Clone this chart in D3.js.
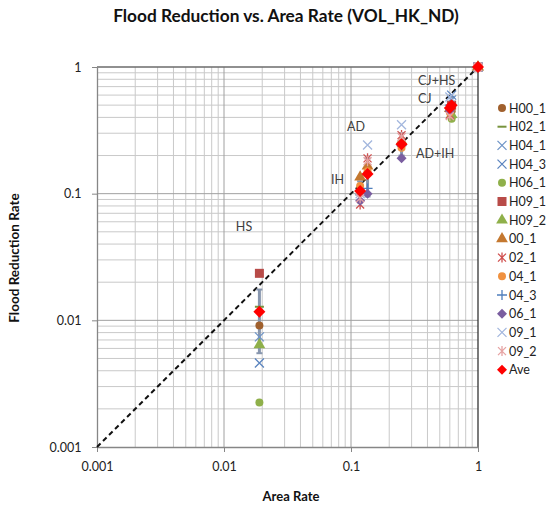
<!DOCTYPE html>
<html><head><meta charset="utf-8">
<script src="https://cdn.jsdelivr.net/npm/d3@7"></script>
<style>body{margin:0;background:#fff;} svg{display:block;font-family:Lato,"Open Sans",sans-serif;}</style>
</head><body><svg id="c" width="554" height="508"></svg>
<script>
// ---- data ----
const scenarios = ["HS","IH","AD","AD+IH","CJ","CJ+HS","ALL"];
const areaRate  = [0.019, 0.118, 0.135, 0.25, 0.6, 0.62, 1];
const seriesNames = ["H00_1","H02_1","H04_1","H04_3","H06_1","H09_1","H09_2","00_1","02_1","04_1","04_3","06_1","09_1","09_2","Ave"];
// values per series, aligned with scenarios (null = not present)
const H00_1 = [0.0091, null, null, null, null, 0.45, 1];
const H02_1 = [0.0128, null, null, null, null, 0.40, 1];
const H04_1 = [0.0074, null, null, null, null, 0.55, 1];
const H04_3 = [0.0046, null, null, null, null, 0.60, 1];
const H06_1 = [0.00225,null, null, null, null, 0.39, 1];
const H09_1 = [0.0235, null, null, null, null, 0.50, 1];
const H09_2 = [0.0064, null, null, null, null, 0.42, 1];
const S00_1 = [null, 0.135, 0.165, 0.26, 0.47, null, 1];
const S02_1 = [null, 0.082, 0.19, 0.29, 0.42, null, 1];
const S04_1 = [null, 0.115, 0.15, 0.23, 0.44, null, 1];
const S04_3 = [null, 0.098, 0.11, 0.24, 0.50, null, 1];
const S06_1 = [null, 0.088, 0.10, 0.19, 0.45, null, 1];
const S09_1 = [null, 0.100, 0.242, 0.35, 0.58, null, 1];
const S09_2 = [null, 0.092, 0.18, 0.28, 0.41, null, 1];
const Ave   = [0.0117, 0.105, 0.143, 0.245, 0.475, 0.50, 1];
const aveLow  = [0.0055, 0.085, 0.095, 0.20, 0.42, 0.42, 1];
const aveHigh = [0.0175, 0.125, 0.19, 0.30, 0.53, 0.58, 1];
const xTicks = ["0.001","0.01","0.1","1"];
const yTicks = ["0.001","0.01","0.1","1"];
const labelPos = [ // scenario label text and anchor point (data coords)
  {t:"HS", x:0.0124, y:0.0507},
  {t:"IH", x:0.0697, y:0.119},
  {t:"AD", x:0.093, y:0.312},
  {t:"AD+IH", x:0.325, y:0.191},
  {t:"CJ", x:0.337, y:0.519},
  {t:"CJ+HS", x:0.337, y:0.72}
];

const seriesData = [H00_1,H02_1,H04_1,H04_3,H06_1,H09_1,H09_2,S00_1,S02_1,S04_1,S04_3,S06_1,S09_1,S09_2,Ave];
const styles = [
  {m:"circle", c:"#A0602D"},
  {m:"dash", c:"#77933C"},
  {m:"x", c:"#6F95C7"},
  {m:"x", c:"#5B84BF"},
  {m:"circle", c:"#8FB04A"},
  {m:"square", c:"#B84B48"},
  {m:"triangle", c:"#8FB04A"},
  {m:"triangle", c:"#C4782F"},
  {m:"star", c:"#D0504F"},
  {m:"circle", c:"#F0913F"},
  {m:"plus", c:"#4F7FBD"},
  {m:"diamond", c:"#7A5EA0"},
  {m:"x", c:"#A3B7DE"},
  {m:"star", c:"#E6A3A3"},
  {m:"bigdiamond", c:"#FF0000"}
];

const svg = d3.select("#c");
const x = d3.scaleLog().domain([0.001,1]).range([97,478]);
const y = d3.scaleLog().domain([0.001,1]).range([447,67]);

// gridlines
const minor = [];
for (let e=-3;e<0;e++) for (let k=2;k<=9;k++) minor.push(k*Math.pow(10,e));
const major = [0.001,0.01,0.1,1];
const g = svg.append("g");
g.selectAll(".vm").data(minor).join("line").attr("x1",d=>x(d)).attr("x2",d=>x(d)).attr("y1",67).attr("y2",447).attr("stroke","#c9c9c9").attr("stroke-width",1);
g.selectAll(".hm").data(minor).join("line").attr("y1",d=>y(d)).attr("y2",d=>y(d)).attr("x1",97).attr("x2",478).attr("stroke","#c9c9c9").attr("stroke-width",1);
g.selectAll(".vM").data(major.slice(1,3)).join("line").attr("x1",d=>x(d)).attr("x2",d=>x(d)).attr("y1",67).attr("y2",447).attr("stroke","#a0a0a0").attr("stroke-width",1);
g.selectAll(".hM").data(major.slice(1,3)).join("line").attr("y1",d=>y(d)).attr("y2",d=>y(d)).attr("x1",97).attr("x2",478).attr("stroke","#a0a0a0").attr("stroke-width",1);
// border top/right
g.append("line").attr("x1",97).attr("x2",478).attr("y1",67).attr("y2",67).attr("stroke","#6b6b6b").attr("stroke-width",1.3);
g.append("line").attr("x1",478).attr("x2",478).attr("y1",67).attr("y2",447).attr("stroke","#333").attr("stroke-width",1.3);

// axes
const ax = svg.append("g").attr("transform","translate(0,447)")
  .call(d3.axisBottom(x).tickValues(major).tickFormat((d,i)=>xTicks[i]).tickSize(5).tickSizeOuter(0));
const ay = svg.append("g").attr("transform","translate(97,0)")
  .call(d3.axisLeft(y).tickValues(major).tickFormat((d,i)=>yTicks[i]).tickSize(5).tickSizeOuter(0));
[ax,ay].forEach(a=>{
  a.select(".domain").attr("stroke","#868686").attr("stroke-width",1.3);
  a.selectAll(".tick line").attr("stroke","#868686");
  a.selectAll("text").attr("font-family","Lato, sans-serif").attr("font-size",12.5).attr("fill","#222");
});
ax.selectAll("text").attr("dy","1.3em");
ay.selectAll("text").attr("dx","-0.6em");

// diagonal dashed
svg.append("line").attr("x1",x(0.001)).attr("y1",y(0.001)).attr("x2",x(1)).attr("y2",y(1))
  .attr("stroke","#111").attr("stroke-width",2).attr("stroke-dasharray","5,3.5");

// error bars on Ave
const eb = svg.append("g");
scenarios.forEach((s,i)=>{
  if (aveLow[i]===aveHigh[i]) return;
  const cx = x(areaRate[i]);
  eb.append("line").attr("x1",cx).attr("x2",cx).attr("y1",y(aveLow[i])).attr("y2",y(aveHigh[i])).attr("stroke","#8796AE").attr("stroke-width",3);
  [aveLow[i],aveHigh[i]].forEach(v=>eb.append("line").attr("x1",cx-3).attr("x2",cx+3).attr("y1",y(v)).attr("y2",y(v)).attr("stroke","#8796AE").attr("stroke-width",2));
});

function marker(sel, m, c, cx, cy){
  const gg = sel.append("g").attr("transform",`translate(${cx},${cy})`);
  if (m==="circle") gg.append("circle").attr("r",4).attr("fill",c);
  else if (m==="square") gg.append("rect").attr("x",-4.5).attr("y",-4.5).attr("width",9).attr("height",9).attr("fill",c);
  else if (m==="triangle") gg.append("path").attr("d",d3.symbol(d3.symbolTriangle,60)()).attr("fill",c);
  else if (m==="diamond") gg.append("path").attr("d","M0,-5L5,0L0,5L-5,0Z").attr("fill",c);
  else if (m==="bigdiamond") gg.append("path").attr("d","M0,-6L6,0L0,6L-6,0Z").attr("fill",c);
  else if (m==="dash") gg.append("line").attr("x1",-4.5).attr("x2",4.5).attr("stroke",c).attr("stroke-width",2);
  else if (m==="plus") gg.append("path").attr("d","M-5,0H5M0,-5V5").attr("stroke",c).attr("stroke-width",1.3);
  else if (m==="x") gg.append("path").attr("d","M-4.5,-4.5L4.5,4.5M-4.5,4.5L4.5,-4.5").attr("stroke",c).attr("stroke-width",1.3);
  else if (m==="star") gg.append("path").attr("d","M-4,-4L4,4M-4,4L4,-4M0,-5V5").attr("stroke",c).attr("stroke-width",1.3);
}

const pts = svg.append("g");
seriesData.forEach((vals,si)=>{
  vals.forEach((v,i)=>{
    if (v==null) return;
    marker(pts, styles[si].m, styles[si].c, x(areaRate[i]), y(v));
  });
});

// scenario labels
svg.append("g").selectAll("text").data(labelPos).join("text")
  .attr("x",d=>x(d.x)).attr("y",d=>y(d.y)).text(d=>d.t)
  .attr("font-size",12.5).attr("fill","#404040");

// title
svg.append("text").attr("x",286).attr("y",22).attr("text-anchor","middle")
  .attr("font-size",17.3).attr("font-weight","bold").attr("fill","#111").text("Flood Reduction vs. Area Rate (VOL_HK_ND)");
svg.append("text").attr("x",291).attr("y",501).attr("text-anchor","middle")
  .attr("font-size",13).attr("font-weight","bold").attr("fill","#111").text("Area Rate");
svg.append("text").attr("transform","translate(19,258) rotate(-90)").attr("text-anchor","middle")
  .attr("font-size",13.5).attr("font-weight","bold").attr("fill","#111").text("Flood Reduction Rate");

// legend
const lg = svg.append("g");
seriesNames.forEach((n,i)=>{
  const ly = 108 + i*18.7;
  marker(lg, styles[i].m==="bigdiamond"?"diamond":styles[i].m, styles[i].c, 502, ly);
  lg.append("text").attr("x",509).attr("y",ly+4.5).attr("font-size",12.5).attr("fill","#222").text(n);
});
</script></body></html>
